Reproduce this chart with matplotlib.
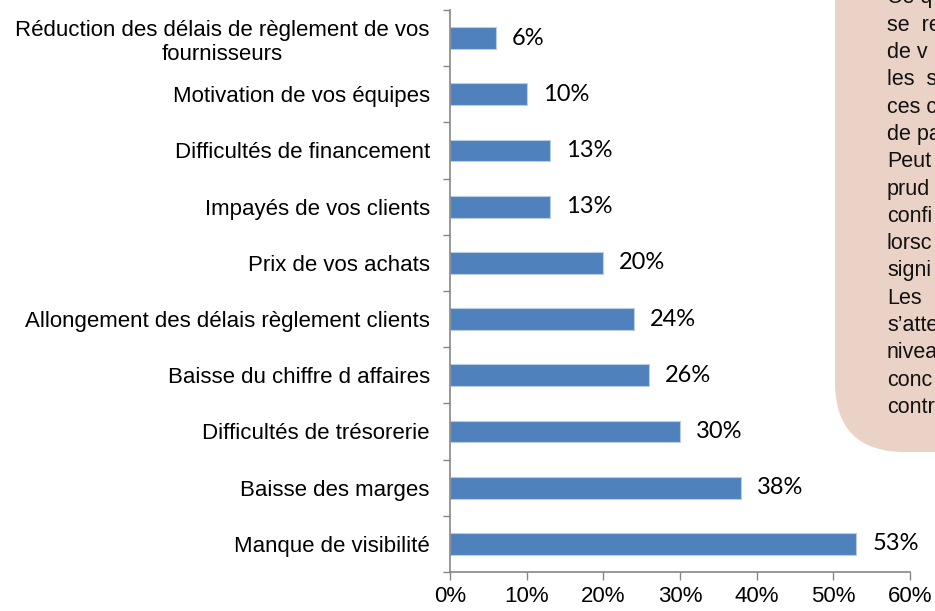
import matplotlib
matplotlib.use("Agg")
import matplotlib.pyplot as plt
import matplotlib.patches as mpatches
import matplotlib.transforms as mtransforms
from matplotlib.ticker import FixedLocator, PercentFormatter

categories = [
    "Réduction des délais de règlement de vos\nfournisseurs",
    "Motivation de vos équipes",
    "Difficultés de financement",
    "Impayés de vos clients",
    "Prix de vos achats",
    "Allongement des délais règlement clients",
    "Baisse du chiffre d affaires",
    "Difficultés de trésorerie",
    "Baisse des marges",
    "Manque de visibilité",
]
values = [6, 10, 13, 13, 20, 24, 26, 30, 38, 53]
x_ticks = [0, 10, 20, 30, 40, 50, 60]

note_lines = ["Ce q", "se  re", "de v", "les  s", "ces c", "de pa", "Peut",
              "prud", "confi", "lorsc", "signi", "Les", "s\u2019atte", "nivea",
              "conc", "contr"]

W, H = 935, 611
fig = plt.figure(figsize=(W / 100, H / 100), dpi=100)
ax = fig.add_axes([450 / W, 1 - 572 / H, 460 / W, 562 / H])

ypos = list(range(len(categories)))
bars = ax.barh(ypos, values, height=0.39, color="#4F81BD",
               edgecolor="#B9CDE5", linewidth=0.8)
ax.set_ylim(len(categories) - 0.5, -0.5)
ax.set_xlim(0, 60)

ax.set_yticks(ypos)
ax.set_yticklabels(categories, fontsize=16, family="Liberation Sans",
                   multialignment="center")
ax.yaxis.set_minor_locator(FixedLocator([i - 0.5 for i in range(len(categories) + 1)]))
ax.tick_params(axis="y", which="major", length=0, pad=14.5)
ax.tick_params(axis="y", which="minor", length=5, width=1, color="#868686", direction="out")

ax.set_xticks(x_ticks)
ax.xaxis.set_major_formatter(PercentFormatter(decimals=0))
ax.tick_params(axis="x", which="major", length=6, width=1, color="#868686",
               direction="out", pad=4, labelsize=16)
for lbl in ax.get_xticklabels():
    lbl.set_family("Liberation Sans")

for s in ["top", "right"]:
    ax.spines[s].set_visible(False)
for s in ["left", "bottom"]:
    ax.spines[s].set_color("#868686")
    ax.spines[s].set_linewidth(1.2)

ax.bar_label(bars, labels=[f"{v}%" for v in values], padding=11.5,
             fontsize=17, family="Lato")

# Note box (clipped at the figure edge)
ident = mtransforms.IdentityTransform()
box = mpatches.FancyBboxPatch((835, H - 452), 300, 700,
                              boxstyle="round,pad=0,rounding_size=70",
                              transform=ident, facecolor="#EAD2C7",
                              edgecolor="none", zorder=0)
fig.patches.append(box)
for i, line in enumerate(note_lines):
    y_px = -2 + 27.3 * i
    fig.text(887 / W, 1 - y_px / H, line, fontsize=15.5, family="Liberation Sans",
             ha="left", va="center", color="#111111")

fig.savefig("out.png", dpi=100)
